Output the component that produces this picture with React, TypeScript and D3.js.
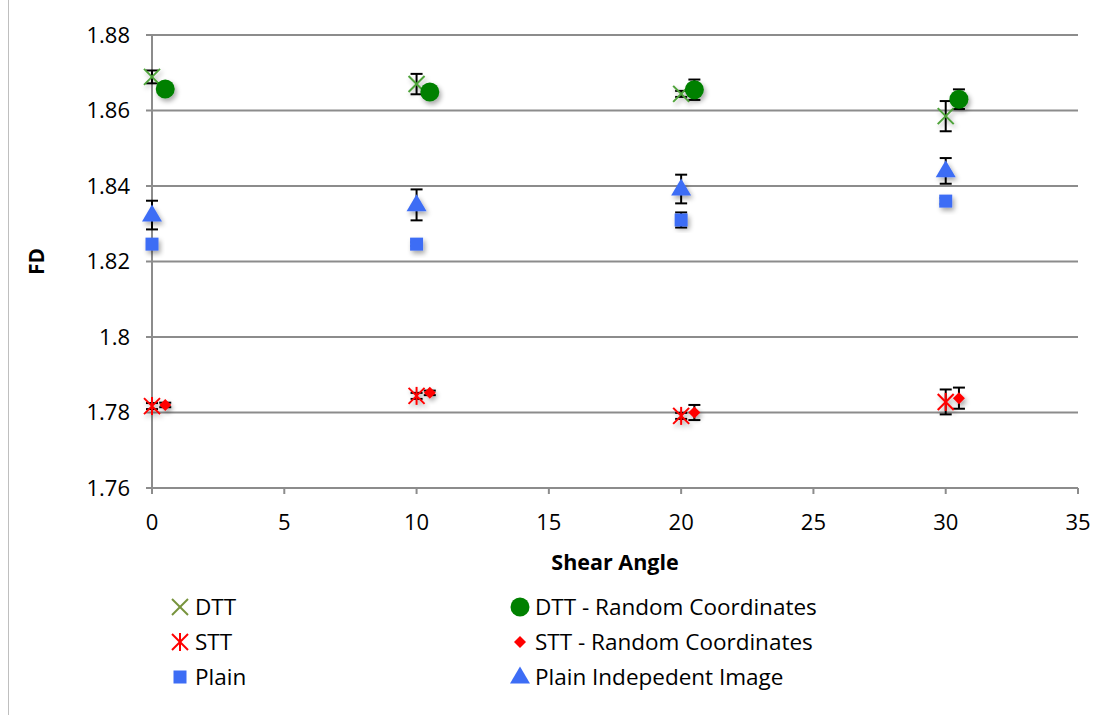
import React from "react";
import * as d3 from "d3";

const xTicks = [0, 5, 10, 15, 20, 25, 30, 35];
const yTicks = [1.76, 1.78, 1.8, 1.82, 1.84, 1.86, 1.88];
const yTickLabels = ["1.76", "1.78", "1.8", "1.82", "1.84", "1.86", "1.88"];

const angles = [0, 10, 20, 30];
const anglesShifted = [0.5, 10.5, 20.5, 30.5];

const dttValues = [1.8689, 1.867, 1.8644, 1.8585];
const dttErr = [0.0017, 0.0027, 0.0008, 0.004];
const dttRandValues = [1.8657, 1.8649, 1.8655, 1.863];
const dttRandErr = [0.0008, 0.0008, 0.0027, 0.0026];
const sttValues = [1.7817, 1.7844, 1.7791, 1.7828];
const sttErr = [0.0008, 0.0008, 0.0008, 0.0033];
const sttRandValues = [1.782, 1.7852, 1.78, 1.7838];
const sttRandErr = [0.0006, 0.0006, 0.002, 0.0028];
const plainValues = [1.8246, 1.8246, 1.831, 1.836];
const plainErr = [0.0005, 0.0005, 0.002, 0.0008];
const plainIndValues = [1.8323, 1.835, 1.8392, 1.844];
const plainIndErr = [0.0038, 0.0041, 0.0038, 0.0034];

const legendLabels = [
  "DTT",
  "DTT - Random Coordinates",
  "STT",
  "STT - Random Coordinates",
  "Plain",
  "Plain Indepedent Image",
];

const FONT = "'Open Sans', 'Liberation Sans', sans-serif";

type Shape = "x" | "circle" | "star" | "diamond" | "square" | "triangle";

function Marker({ shape, cx, cy, color, shadow }: { shape: Shape; cx: number; cy: number; color: string; shadow?: boolean }) {
  const f = shadow ? "url(#shadow)" : undefined;
  if (shape === "x") {
    const r = 8;
    return (
      <g filter={f} stroke={color} strokeWidth={2}>
        <line x1={cx - r} y1={cy - r} x2={cx + r} y2={cy + r} />
        <line x1={cx - r} y1={cy + r} x2={cx + r} y2={cy - r} />
      </g>
    );
  }
  if (shape === "circle") return <circle filter={f} cx={cx} cy={cy} r={9.5} fill={color} />;
  if (shape === "star") {
    const r = 8;
    return (
      <g filter={f} stroke={color} strokeWidth={2}>
        <line x1={cx - r} y1={cy - r} x2={cx + r} y2={cy + r} />
        <line x1={cx - r} y1={cy + r} x2={cx + r} y2={cy - r} />
        <line x1={cx} y1={cy - r - 1} x2={cx} y2={cy + r + 1} />
      </g>
    );
  }
  if (shape === "diamond") {
    const r = 6;
    return <path filter={f} d={`M${cx},${cy - r}L${cx + r},${cy}L${cx},${cy + r}L${cx - r},${cy}Z`} fill={color} />;
  }
  if (shape === "square") {
    const r = 6.5;
    return <rect filter={f} x={cx - r} y={cy - r} width={2 * r} height={2 * r} fill={color} />;
  }
  const s = 20;
  const h = 17;
  return <path filter={f} d={`M${cx},${cy - h * 0.62}L${cx + s / 2},${cy + h * 0.38}L${cx - s / 2},${cy + h * 0.38}Z`} fill={color} />;
}

export default function App() {
  const W = 1118;
  const H = 715;
  const x = d3.scaleLinear().domain([0, 35]).range([152, 1078]);
  const y = d3.scaleLinear().domain([1.76, 1.88]).range([488, 35]);

  const blue = "#3D6DF5";
  const series: { xs: number[]; vals: number[]; errs: number[]; shape: Shape; color: string }[] = [
    { xs: angles, vals: plainValues, errs: plainErr, shape: "square", color: blue },
    { xs: angles, vals: plainIndValues, errs: plainIndErr, shape: "triangle", color: blue },
    { xs: angles, vals: sttValues, errs: sttErr, shape: "star", color: "#FF0000" },
    { xs: anglesShifted, vals: sttRandValues, errs: sttRandErr, shape: "diamond", color: "#FF0000" },
    { xs: angles, vals: dttValues, errs: dttErr, shape: "x", color: "#4FA33A" },
    { xs: anglesShifted, vals: dttRandValues, errs: dttRandErr, shape: "circle", color: "#008000" },
  ];

  const legendItems: { label: string; shape: Shape; color: string; lx: number; ly: number }[] = [
    { label: legendLabels[0], shape: "x", color: "#77933C", lx: 180, ly: 607 },
    { label: legendLabels[1], shape: "circle", color: "#008000", lx: 520, ly: 607 },
    { label: legendLabels[2], shape: "star", color: "#FF0000", lx: 180, ly: 642 },
    { label: legendLabels[3], shape: "diamond", color: "#FF0000", lx: 520, ly: 642 },
    { label: legendLabels[4], shape: "square", color: blue, lx: 180, ly: 677 },
    { label: legendLabels[5], shape: "triangle", color: blue, lx: 520, ly: 677 },
  ];

  return (
    <svg width={W} height={H} style={{ position: "absolute", left: 0, top: 0, background: "#fff" }} fontFamily={FONT}>
      <defs>
        <filter id="shadow" x="-50%" y="-50%" width="200%" height="200%">
          <feGaussianBlur in="SourceAlpha" stdDeviation="2.5" />
          <feOffset dx="2" dy="3" result="b" />
          <feComponentTransfer>
            <feFuncA type="linear" slope="0.35" />
          </feComponentTransfer>
          <feMerge>
            <feMergeNode />
            <feMergeNode in="SourceGraphic" />
          </feMerge>
        </filter>
      </defs>
      <line x1={8.5} y1={0} x2={8.5} y2={H} stroke="#bfbfbf" strokeWidth={1} />
      {yTicks.map((t, i) => (
        <g key={t}>
          <line x1={146} x2={1078} y1={y(t)} y2={y(t)} stroke="#8c8c8c" strokeWidth={2} />
          <text x={130} y={y(t)} dy="0.36em" textAnchor="end" fontSize={22} fill="#000">
            {yTickLabels[i]}
          </text>
        </g>
      ))}
      <line x1={x(0)} x2={x(0)} y1={y(1.88)} y2={y(1.76) + 6} stroke="#8c8c8c" strokeWidth={2} />
      {xTicks.map((t) => (
        <g key={t}>
          <line x1={x(t)} x2={x(t)} y1={y(1.76)} y2={y(1.76) + 6} stroke="#8c8c8c" strokeWidth={2} />
          <text x={x(t)} y={530} textAnchor="middle" fontSize={22} fill="#000">
            {t}
          </text>
        </g>
      ))}
      <text x={615} y={570} textAnchor="middle" fontSize={21.5} fontWeight="bold">
        Shear Angle
      </text>
      <text transform={`translate(44,${y(1.82)}) rotate(-90)`} textAnchor="middle" fontSize={21} fontWeight="bold">
        FD
      </text>
      {series.map((s, si) => (
        <g key={"e" + si}>
          {s.vals.map((v, i) => {
            const cx = x(s.xs[i]);
            const y1 = y(v + s.errs[i]);
            const y2 = y(v - s.errs[i]);
            return (
              <g key={i} stroke="#000" strokeWidth={2}>
                <line x1={cx} x2={cx} y1={y1} y2={y2} />
                <line x1={cx - 6} x2={cx + 6} y1={y1} y2={y1} />
                <line x1={cx - 6} x2={cx + 6} y1={y2} y2={y2} />
              </g>
            );
          })}
        </g>
      ))}
      {series.map((s, si) => (
        <g key={"m" + si}>
          {s.vals.map((v, i) => (
            <Marker key={i} shape={s.shape} cx={x(s.xs[i])} cy={y(v)} color={s.color} shadow />
          ))}
        </g>
      ))}
      {legendItems.map((l, i) => (
        <g key={i}>
          <Marker shape={l.shape} cx={l.lx} cy={l.ly} color={l.color} />
          <text x={l.lx + 15} y={l.ly} dy="0.36em" fontSize={22.5} fill="#000">
            {l.label}
          </text>
        </g>
      ))}
    </svg>
  );
}
